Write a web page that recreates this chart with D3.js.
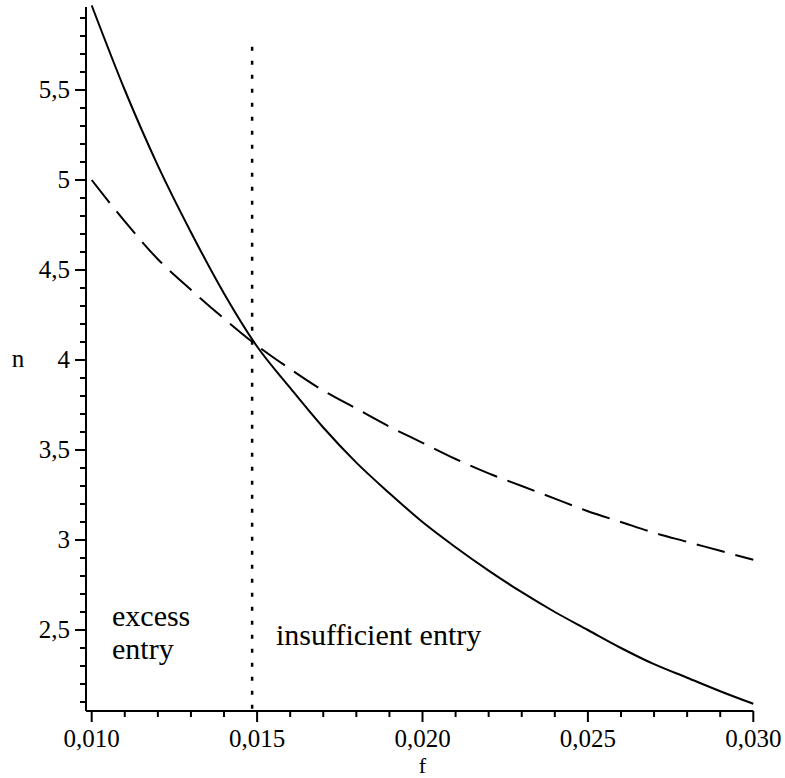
<!DOCTYPE html>
<html>
<head>
<meta charset="utf-8">
<script src="https://cdn.jsdelivr.net/npm/d3@7"></script>
<style>
  html, body { margin: 0; padding: 0; background: #fff; }
  svg { display: block; }
  text { font-family: "Liberation Serif", "Times New Roman", serif; fill: #000; }
</style>
</head>
<body>
<svg id="chart" width="785" height="778"></svg>
<script>
// ---- data ----
const fValues = [0.010, 0.011, 0.012, 0.013, 0.014, 0.015, 0.016, 0.017, 0.018, 0.019, 0.020,
                 0.021, 0.022, 0.023, 0.024, 0.025, 0.026, 0.027, 0.028, 0.029, 0.030];
// solid curve
const nSolid = [5.97, 5.50, 5.08, 4.71, 4.37, 4.075, 3.845, 3.625, 3.43, 3.26, 3.10,
                2.96, 2.83, 2.71, 2.60, 2.50, 2.40, 2.31, 2.235, 2.16, 2.09];
// dashed curve
const nDashed = [5.00, 4.77, 4.56, 4.39, 4.23, 4.08, 3.95, 3.83, 3.73, 3.63, 3.54,
                 3.45, 3.37, 3.30, 3.23, 3.16, 3.10, 3.04, 2.99, 2.94, 2.89];
// vertical dotted line
const fDivider = 0.01485;
const nDividerTop = 5.74;
// axis ticks
const xMajorTicks = [0.010, 0.015, 0.020, 0.025, 0.030];
const xTickLabels = ["0,010", "0,015", "0,020", "0,025", "0,030"];
const yMajorTicks = [2.5, 3, 3.5, 4, 4.5, 5, 5.5];
const yTickLabels = ["2,5", "3", "3,5", "4", "4,5", "5", "5,5"];
const xLabel = "f";
const yLabel = "n";
const regionLeft = ["excess", "entry"];
const regionRight = "insufficient entry";

// ---- layout ----
const svg = d3.select("#chart");
const x = d3.scaleLinear().domain([0.010, 0.030]).range([91.7, 753.3]);
const y = d3.scaleLinear().domain([2, 6]).range([720, 0]);
const xMin = x.invert(86), yMin = y.invert(711), yMax = y.invert(7);

// minor ticks
const xMinor = d3.range(10, 31).map(d => d / 1000);
const yMinor = d3.range(21, 60).map(d => d / 10);

const g = svg.append("g");

// axes lines
g.append("line").attr("x1", x(xMin)).attr("x2", x(0.030)).attr("y1", y(yMin)).attr("y2", y(yMin))
  .attr("stroke", "#000").attr("stroke-width", 2);
g.append("line").attr("x1", x(xMin)).attr("x2", x(xMin)).attr("y1", y(yMin)).attr("y2", y(yMax))
  .attr("stroke", "#000").attr("stroke-width", 2);

// x ticks
g.selectAll(".xminor").data(xMinor).join("line")
  .attr("x1", d => x(d)).attr("x2", d => x(d))
  .attr("y1", y(yMin)).attr("y2", d => y(yMin) + (xMajorTicks.some(m => Math.abs(m - d) < 1e-9) ? 11 : 6))
  .attr("stroke", "#000").attr("stroke-width", 2);
g.selectAll(".xlab").data(xMajorTicks).join("text")
  .attr("x", d => x(d)).attr("y", 747)
  .attr("text-anchor", "middle").attr("font-size", 25)
  .text((d, i) => xTickLabels[i]);

// y ticks
g.selectAll(".yminor").data(yMinor).join("line")
  .attr("y1", d => y(d)).attr("y2", d => y(d))
  .attr("x1", x(xMin)).attr("x2", d => x(xMin) - (yMajorTicks.some(m => Math.abs(m - d) < 1e-9) ? 11 : 6))
  .attr("stroke", "#000").attr("stroke-width", 2);
g.selectAll(".ylab").data(yMajorTicks).join("text")
  .attr("x", 70).attr("y", d => y(d) + 8)
  .attr("text-anchor", "end").attr("font-size", 25)
  .text((d, i) => yTickLabels[i]);

// axis labels
g.append("text").attr("x", x(0.020)).attr("y", 773).attr("text-anchor", "middle")
  .attr("font-size", 22).text(xLabel);
g.append("text").attr("x", 18).attr("y", 367).attr("text-anchor", "middle")
  .attr("font-size", 25).text(yLabel);

// curves
const pts = (ys) => fValues.map((f, i) => [f, ys[i]]);
const line = d3.line().x(d => x(d[0])).y(d => y(d[1])).curve(d3.curveMonotoneX);

g.append("path").attr("d", line(pts(nSolid))).attr("fill", "none")
  .attr("stroke", "#000").attr("stroke-width", 2);
g.append("path").attr("d", line(pts(nDashed))).attr("fill", "none")
  .attr("stroke", "#000").attr("stroke-width", 2).attr("stroke-dasharray", "29,11");

// dotted divider
g.append("line").attr("x1", x(fDivider)).attr("x2", x(fDivider))
  .attr("y1", y(nDividerTop)).attr("y2", y(yMin))
  .attr("stroke", "#000").attr("stroke-width", 2.5).attr("stroke-dasharray", "4,10");

// region labels
g.append("text").attr("x", 112).attr("y", 626).attr("font-size", 30).text(regionLeft[0]);
g.append("text").attr("x", 112).attr("y", 659).attr("font-size", 30).text(regionLeft[1]);
g.append("text").attr("x", 276).attr("y", 645).attr("font-size", 30).text(regionRight);
</script>
</body>
</html>
